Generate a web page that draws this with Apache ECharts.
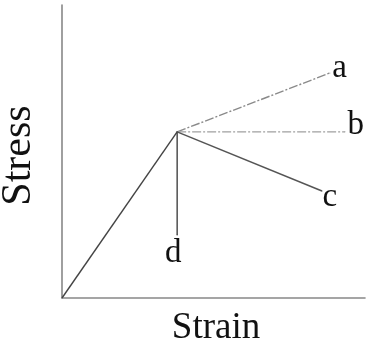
<!DOCTYPE html>
<html>
<head>
<meta charset="utf-8">
<script src="https://cdn.jsdelivr.net/npm/echarts@6/dist/echarts.min.js"></script>
<style>
    html, body { margin: 0; padding: 0; background: #fff; }
    #stress-strain-chart { width: 366px; height: 347px; }
</style>
</head>
<body>
<div id="stress-strain-chart"></div>
<script>
// Curve points in arbitrary strain / stress units (axis 0..10)
const ELASTIC_LINE = [[0, 0], [3.8, 5.67]];
const BRANCH_NAMES = ['a', 'b', 'c', 'd'];
const BRANCH_ENDS = [[8.84, 7.68], [9.34, 5.67], [8.58, 3.65], [3.8, 2.15]];
const KNEE = ELASTIC_LINE[1];

const TEXT_FONT = '"Liberation Serif", "DejaVu Serif", serif';

let chart = echarts.init(document.getElementById('stress-strain-chart'));

/* Styles per branch, same order as BRANCH_NAMES. */
let branch_styles = [
    { color: '#8a8a8a', width: 1.4, type: [9, 2, 2, 2] },
    { color: '#a0a0a0', width: 1.4, type: [9, 2, 2, 2] },
    { color: '#555555', width: 1.5, type: 'solid' },
    { color: '#333333', width: 1.3, type: 'solid' }
];
let label_positions = [
    { position: 'right', offset: [0, -5] },
    { position: 'right', offset: [0, -7] },
    { position: 'right', offset: [-2, 6] },
    { position: 'bottom', offset: [-4, -1] }
];

let series = [
    {
        type: 'line',
        data: ELASTIC_LINE,
        symbol: 'none',
        lineStyle: { color: '#444', width: 1.4 },
        silent: true
    }
];

BRANCH_NAMES.forEach(function (name, i) {
    series.push({
        name: name,
        type: 'line',
        symbol: 'circle',
        symbolSize: 1,
        showSymbol: true,
        silent: true,
        lineStyle: branch_styles[i],
        itemStyle: { color: branch_styles[i].color },
        data: [
            { value: KNEE },
            {
                value: BRANCH_ENDS[i],
                label: {
                    show: true,
                    formatter: name,
                    position: label_positions[i].position,
                    offset: label_positions[i].offset,
                    distance: 2,
                    color: '#111',
                    fontFamily: TEXT_FONT,
                    fontSize: 33
                }
            }
        ]
    });
});

let axis_line = { show: true, lineStyle: { color: '#888', width: 1.6 } };

chart.setOption({
    animation: false,
    grid: { left: 62, right: 1, top: 5, bottom: 49, outerBoundsMode: 'none', containLabel: false },
    xAxis: {
        type: 'value',
        min: 0,
        max: 10,
        name: 'Strain',
        nameLocation: 'middle',
        nameGap: 12,
        nameTextStyle: { fontFamily: TEXT_FONT, fontSize: 37, color: '#111', padding: [0, 0, 0, 5] },
        axisLine: axis_line,
        axisTick: { show: false },
        axisLabel: { show: false },
        splitLine: { show: false }
    },
    yAxis: {
        type: 'value',
        min: 0,
        max: 10,
        name: 'Stress',
        nameLocation: 'middle',
        nameRotate: 90,
        nameGap: 22,
        nameTextStyle: { fontFamily: TEXT_FONT, fontSize: 42, color: '#111', padding: [0, 8, 0, 0] },
        axisLine: axis_line,
        axisTick: { show: false },
        axisLabel: { show: false },
        splitLine: { show: false }
    },
    series: series
});
</script>
</body>
</html>
